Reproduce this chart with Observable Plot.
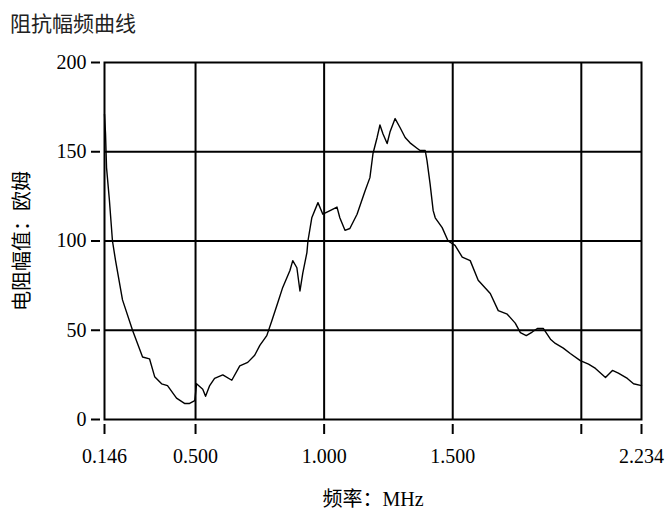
<!DOCTYPE html>
<html><head><meta charset="utf-8">
<script src="https://cdn.jsdelivr.net/npm/d3@7"></script>
<script src="https://cdn.jsdelivr.net/npm/@observablehq/plot@0.6"></script>
<style>
body{margin:0;background:#fff;}
#title{height:32px;padding:8px 0 0 10px;font-size:21px;line-height:28px;font-family:"Noto Sans CJK SC",sans-serif;color:#222;}
#chart svg{display:block;}
</style></head>
<body>
<div id="title">阻抗幅频曲线</div>
<div id="chart"></div>
<script>
const freq = [0.146,0.150,0.154,0.165,0.177,0.189,0.216,0.255,0.294,0.321,0.341,0.368,0.391,0.426,0.457,0.477,0.497,0.504,0.528,0.539,0.555,0.574,0.606,0.641,0.672,0.703,0.730,0.750,0.777,0.797,0.820,0.839,0.867,0.878,0.894,0.906,0.917,0.933,0.937,0.952,0.976,0.995,1.023,1.050,1.061,1.081,1.100,1.128,1.159,1.178,1.190,1.206,1.217,1.229,1.245,1.256,1.276,1.295,1.315,1.334,1.361,1.373,1.393,1.400,1.412,1.424,1.432,1.459,1.482,1.509,1.537,1.568,1.599,1.646,1.677,1.712,1.743,1.763,1.786,1.809,1.829,1.852,1.880,1.899,1.930,1.957,1.996,2.028,2.055,2.094,2.121,2.144,2.179,2.203,2.234];
const impedance = [171,160,141,123,100,89,67,50,35,34,24,20,19,12,9,9,10.6,20,17,13,19,23,25,22,30,32,36,41.5,47,55.5,65.5,74,83.5,89,85,72,82,93.5,100,113,121.5,115,117,119,113,106,107,115,128,135.5,149,158,165,160,154.6,161,168.6,163.6,158,155,152,150.7,150.7,145,132,117,113,107.5,100,97.5,91,89,78,70.6,61,59,54,48.7,47,49,51,51,45,42.6,40,37,33,31,28.6,23.5,27.5,26,23,20,19];
const xTicks = [0.146,0.5,1.0,1.5,2.0,2.234];
const xTickLabels = ["0.146","0.500","1.000","1.500","","2.234"];
const xGrid = [0.5,1.0,1.5,2.0];
const yTicks = [0,50,100,150,200];
const yGrid = [50,100,150];

const data = freq.map((f,i)=>({f, v: impedance[i]}));
const font = '"Liberation Serif","Noto Sans CJK SC",serif';

const chart = Plot.plot({
  width: 665,
  height: 472,
  marginTop: 22,
  marginBottom: 93,
  marginLeft: 104,
  marginRight: 24,
  style: {fontFamily: font, fontSize: "20px", color: "black", background: "white"},
  x: {domain: [0.146, 2.234]},
  y: {domain: [0, 200]},
  marks: [
    Plot.ruleX(xGrid, {stroke: "black", strokeWidth: 2}),
    Plot.ruleY(yGrid, {stroke: "black", strokeWidth: 2}),
    Plot.line(data, {x: "f", y: "v", stroke: "black", strokeWidth: 1.4}),
    Plot.frame({stroke: "black", strokeWidth: 2}),
    Plot.axisY(yTicks, {tickSize: 9, tickPadding: 5, dx: -4, strokeWidth: 2, fontSize: 20,
      label: "电阻幅值：欧姆", labelAnchor: "center", labelArrow: "none", labelOffset: 90}),
    Plot.axisX(xTicks, {tickSize: 10, tickPadding: 14, dy: 5, strokeWidth: 2, fontSize: 20,
      tickFormat: (d, i) => xTickLabels[i],
      label: "频率：MHz", labelAnchor: "center", labelArrow: "none", labelOffset: 86})
  ]
});
document.getElementById("chart").appendChild(chart);
</script>
</body></html>
